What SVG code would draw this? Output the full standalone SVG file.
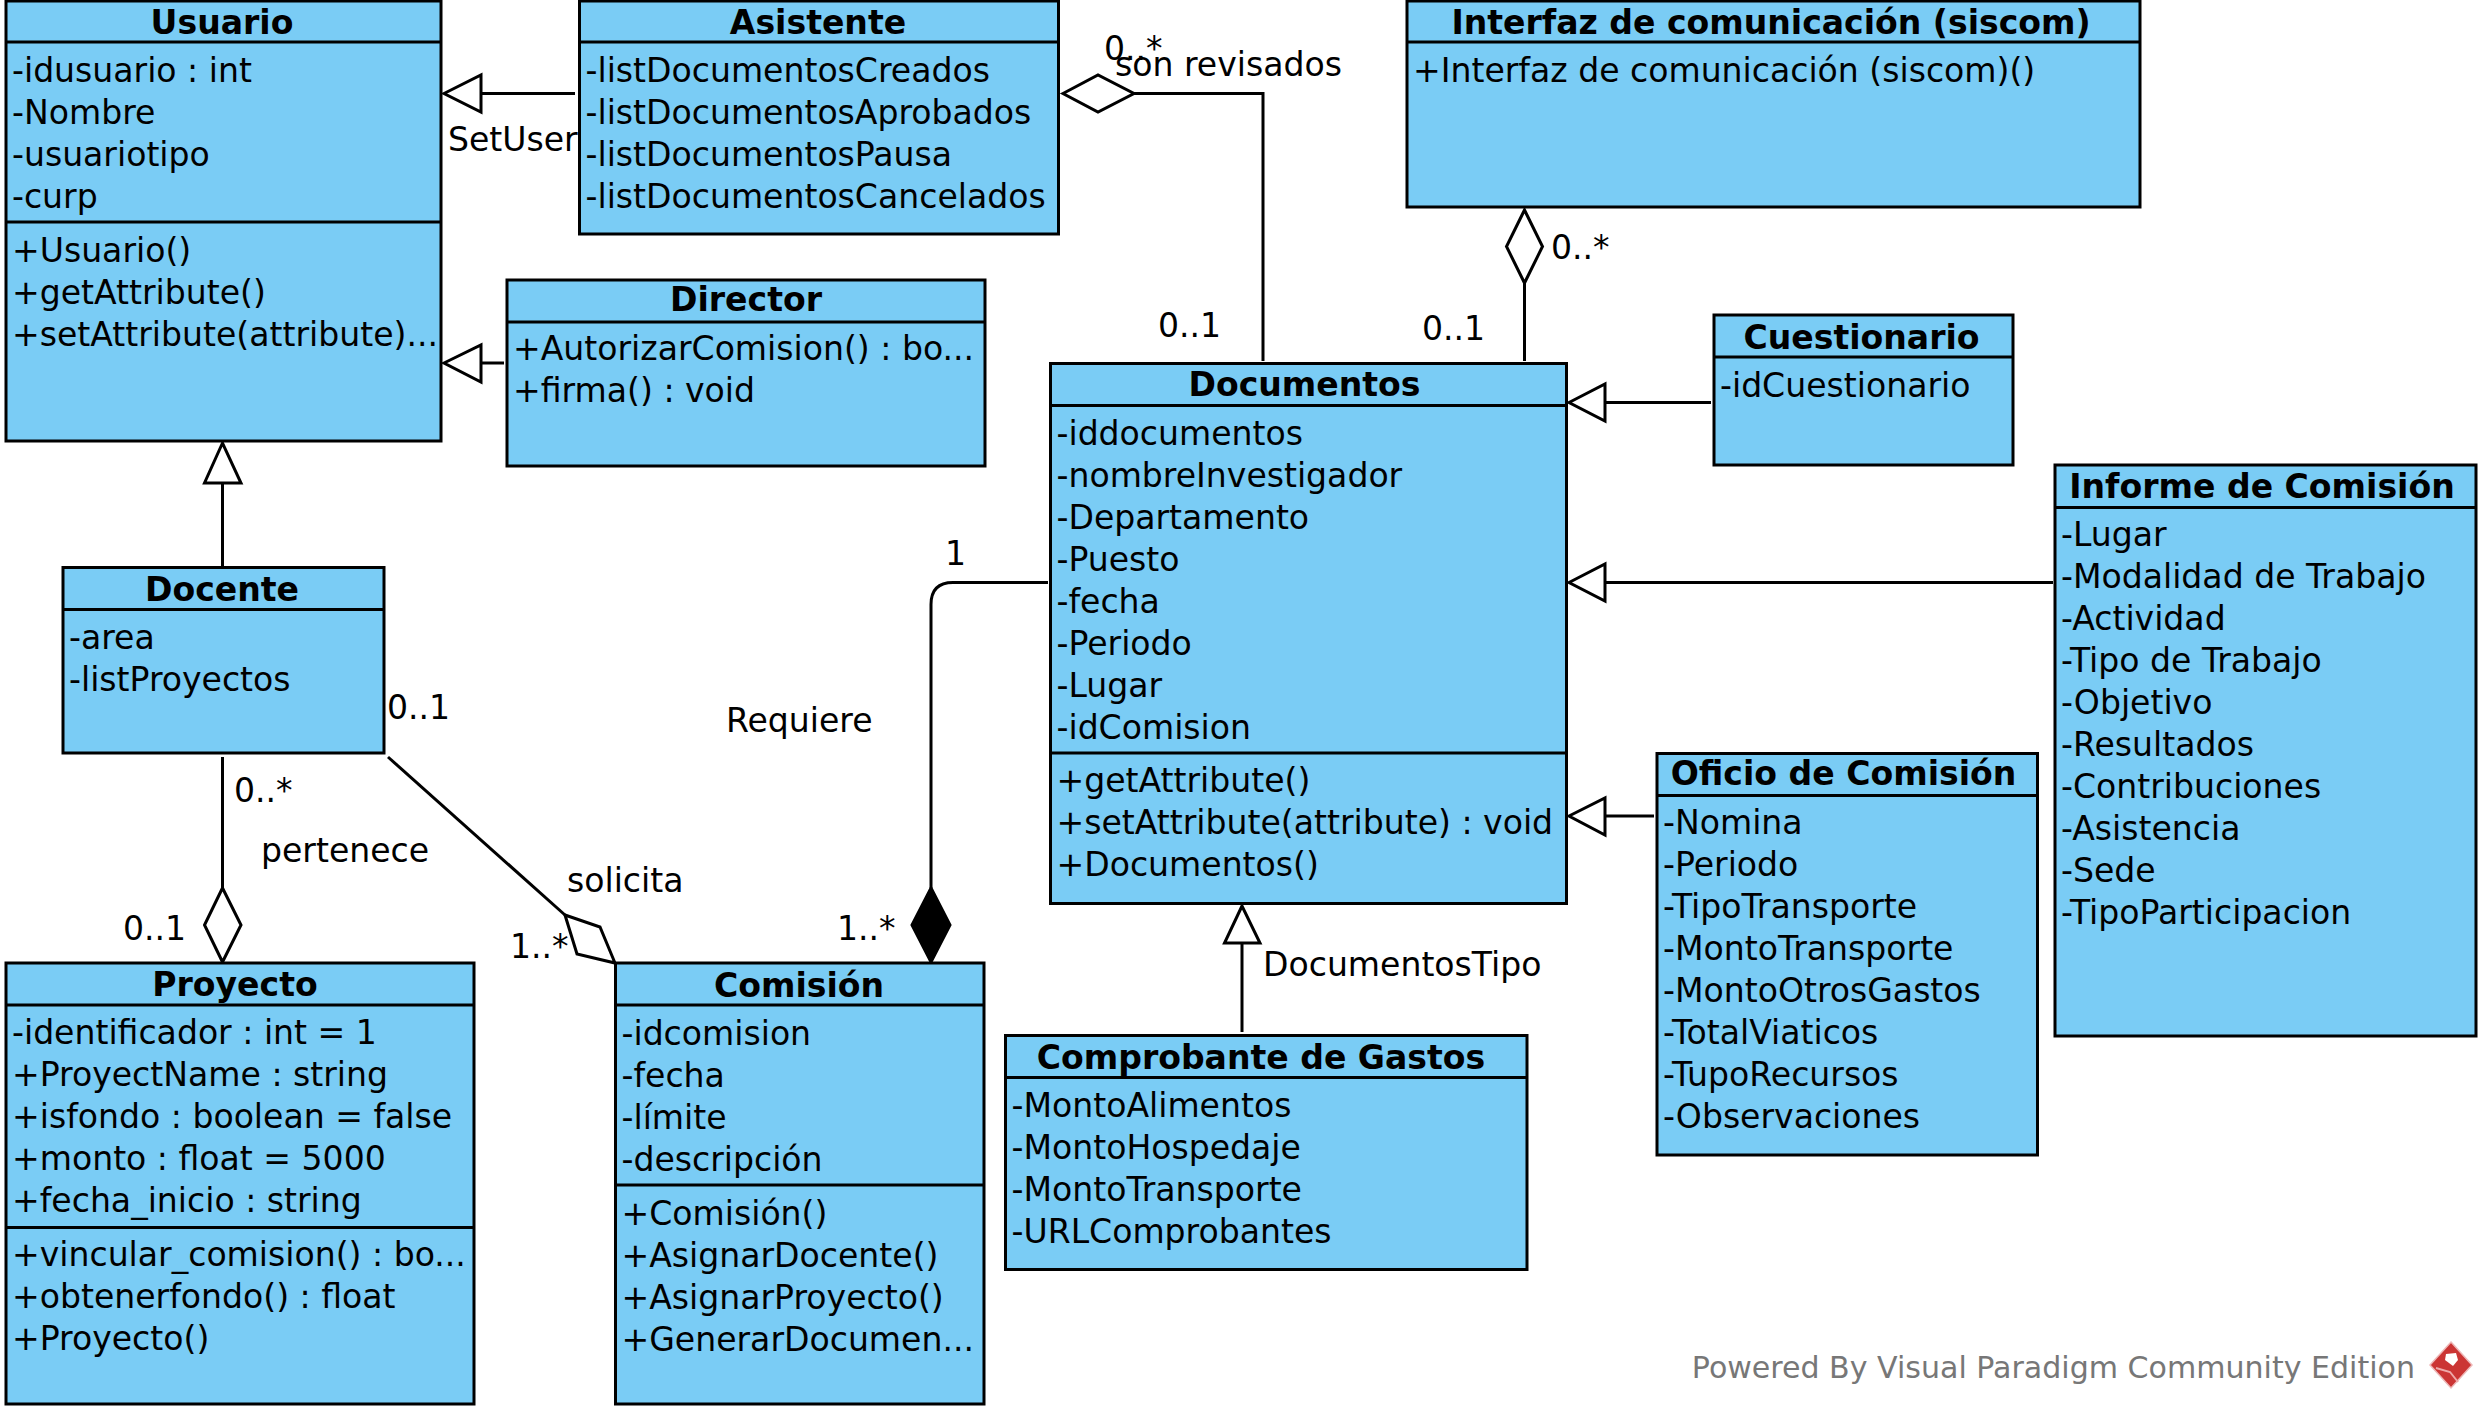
<svg xmlns="http://www.w3.org/2000/svg" width="2487" height="1416" viewBox="0 0 2487 1416">
<style>
text{font-family:"DejaVu Sans",sans-serif;font-size:33.1px;fill:#000;transform:translateY(1.5px)}
#director text,#informe text,#oficio text{transform:translateY(.3px)}
#proyecto text,#documentos text{transform:translateY(.8px)}
.t{font-weight:bold;text-anchor:middle}
.b{fill:#7accf5;stroke:#000;stroke-width:3}
.l{stroke:#000;stroke-width:3;fill:none}
.h{stroke:#000;stroke-width:3;fill:#fff}
.f{stroke:#000;stroke-width:3;fill:#000}
.w{font-size:30.05px;fill:#777;transform:none}
</style>
<rect width="2487" height="1416" fill="#fff"/>
<g id="connectors">
<path class="l" d="M481 93.500H575"/><path class="h" d="M444 93.500L481 75V112Z"/>
<path class="l" d="M481 363H504"/><path class="h" d="M444 363L481 345V382Z"/>
<path class="l" d="M222.500 483V566"/><path class="h" d="M222.500 443L204.500 483H241Z"/>
<path class="l" d="M1134 93.500H1263V361"/><path class="h" d="M1063 93.500L1098 75L1134 93.500L1098 112Z"/>
<path class="l" d="M1524.500 283V361"/><path class="h" d="M1524.500 210L1542.500 246.500L1524.500 283L1506.500 246.500Z"/>
<path class="l" d="M1605 402.500H1711"/><path class="h" d="M1569 402.500L1605 384V421Z"/>
<path class="l" d="M1605 582.500H2053"/><path class="h" d="M1569 582.500L1605 564V601Z"/>
<path class="l" d="M1605 816H1654"/><path class="h" d="M1569 816L1605 798V835Z"/>
<path class="l" d="M1242 943V1032"/><path class="h" d="M1242 906L1224.500 943H1260Z"/>
<path class="l" d="M1048 582.500H953Q931 582.500 931 604.500V888"/><path class="f" d="M931 888L950 925L931 962L912 925Z"/>
<path class="l" d="M222.500 757V888"/><path class="h" d="M222.500 888L241 925L222.500 962L204.500 925Z"/>
<path class="l" d="M388 757L565 915"/><path class="h" d="M565 915L600 927L615 963L577 954Z"/>
</g>
<g id="labels">
<text x="448" y="149">SetUser</text>
<text x="1104" y="58">0..*</text>
<text x="1115" y="74">son revisados</text>
<text x="1158" y="335">0..1</text>
<text x="1551" y="257">0..*</text>
<text x="1422" y="338">0..1</text>
<text x="1263" y="974">DocumentosTipo</text>
<text x="945" y="563">1</text>
<text x="726" y="730">Requiere</text>
<text x="837" y="938">1..*</text>
<text x="234" y="800">0..*</text>
<text x="261" y="860">pertenece</text>
<text x="123" y="938">0..1</text>
<text x="567" y="890">solicita</text>
<text x="510" y="956">1..*</text>
<text x="387" y="717">0..1</text>
</g>
<g id="usuario"><rect class="b" x="6" y="1" width="435" height="440"/><path class="l" d="M6 42H441M6 222H441"/>
<text class="t" x="222" y="32">Usuario</text>
<text x="12" y="80">-idusuario : int</text><text x="12" y="122">-Nombre</text><text x="12" y="164">-usuariotipo</text><text x="12" y="206">-curp</text>
<text x="12" y="260">+Usuario()</text><text x="12" y="302">+getAttribute()</text><text x="12" y="344">+setAttribute(attribute)...</text></g>
<g id="asistente"><rect class="b" x="579.500" y="1" width="479" height="233"/><path class="l" d="M579.500 42H1058.500"/>
<text class="t" x="818" y="32">Asistente</text>
<text x="585.500" y="80">-listDocumentosCreados</text><text x="585.500" y="122">-listDocumentosAprobados</text><text x="585.500" y="164">-listDocumentosPausa</text><text x="585.500" y="206">-listDocumentosCancelados</text></g>
<g id="director"><rect class="b" x="507" y="280" width="478" height="186"/><path class="l" d="M507 322H985"/>
<text class="t" x="746" y="311">Director</text>
<text x="513" y="360">+AutorizarComision() : bo...</text><text x="513" y="402">+firma() : void</text></g>
<g id="interfaz"><rect class="b" x="1407" y="1" width="733" height="206"/><path class="l" d="M1407 42H2140"/>
<text class="t" x="1771" y="32">Interfaz de comunicación (siscom)</text>
<text x="1413" y="80">+Interfaz de comunicación (siscom)()</text></g>
<g id="documentos"><rect class="b" x="1050.500" y="363.500" width="516" height="540"/><path class="l" d="M1050.500 405.500H1566.500M1050.500 753H1566.500"/>
<text class="t" x="1304.500" y="395">Documentos</text>
<text x="1056.500" y="444">-iddocumentos</text><text x="1056.500" y="486">-nombreInvestigador</text><text x="1056.500" y="528">-Departamento</text><text x="1056.500" y="570">-Puesto</text><text x="1056.500" y="612">-fecha</text><text x="1056.500" y="654">-Periodo</text><text x="1056.500" y="696">-Lugar</text><text x="1056.500" y="738">-idComision</text>
<text x="1056.500" y="791">+getAttribute()</text><text x="1056.500" y="833">+setAttribute(attribute) : void</text><text x="1056.500" y="875">+Documentos()</text></g>
<g id="cuestionario"><rect class="b" x="1714" y="315" width="299" height="150"/><path class="l" d="M1714 357H2013"/>
<text class="t" x="1861.500" y="347">Cuestionario</text>
<text x="1720" y="395">-idCuestionario</text></g>
<g id="informe"><rect class="b" x="2055" y="465" width="421" height="571"/><path class="l" d="M2055 507.500H2476"/>
<text class="t" x="2262" y="498">Informe de Comisión</text>
<text x="2061" y="546">-Lugar</text><text x="2061" y="588">-Modalidad de Trabajo</text><text x="2061" y="630">-Actividad</text><text x="2061" y="672">-Tipo de Trabajo</text><text x="2061" y="714">-Objetivo</text><text x="2061" y="756">-Resultados</text><text x="2061" y="798">-Contribuciones</text><text x="2061" y="840">-Asistencia</text><text x="2061" y="882">-Sede</text><text x="2061" y="924">-TipoParticipacion</text></g>
<g id="oficio"><rect class="b" x="1657" y="753.500" width="380.500" height="401.500"/><path class="l" d="M1657 795.500H2037.500"/>
<text class="t" x="1843.500" y="785">Oficio de Comisión</text>
<text x="1663" y="834">-Nomina</text><text x="1663" y="876">-Periodo</text><text x="1663" y="918">-TipoTransporte</text><text x="1663" y="960">-MontoTransporte</text><text x="1663" y="1002">-MontoOtrosGastos</text><text x="1663" y="1044">-TotalViaticos</text><text x="1663" y="1086">-TupoRecursos</text><text x="1663" y="1128">-Observaciones</text></g>
<g id="comprobante"><rect class="b" x="1005.500" y="1035.500" width="521.500" height="234"/><path class="l" d="M1005.500 1077.500H1527"/>
<text class="t" x="1261" y="1067">Comprobante de Gastos</text>
<text x="1011.500" y="1115">-MontoAlimentos</text><text x="1011.500" y="1157">-MontoHospedaje</text><text x="1011.500" y="1199">-MontoTransporte</text><text x="1011.500" y="1241">-URLComprobantes</text></g>
<g id="docente"><rect class="b" x="63" y="567.500" width="321" height="185.500"/><path class="l" d="M63 609.500H384"/>
<text class="t" x="222" y="599">Docente</text>
<text x="69" y="647">-area</text><text x="69" y="689">-listProyectos</text></g>
<g id="proyecto"><rect class="b" x="6" y="963" width="468" height="441"/><path class="l" d="M6 1005H474M6 1227.500H474"/>
<text class="t" x="235" y="995">Proyecto</text>
<text x="12" y="1043">-identificador : int = 1</text><text x="12" y="1085">+ProyectName : string</text><text x="12" y="1127">+isfondo : boolean = false</text><text x="12" y="1169">+monto : float = 5000</text><text x="12" y="1211">+fecha_inicio : string</text>
<text x="12" y="1265">+vincular_comision() : bo...</text><text x="12" y="1307">+obtenerfondo() : float</text><text x="12" y="1349">+Proyecto()</text></g>
<g id="comision"><rect class="b" x="615.500" y="963" width="368.500" height="441"/><path class="l" d="M615.500 1005H984M615.500 1185H984"/>
<text class="t" x="799" y="995">Comisión</text>
<text x="621.500" y="1043">-idcomision</text><text x="621.500" y="1085">-fecha</text><text x="621.500" y="1127">-límite</text><text x="621.500" y="1169">-descripción</text>
<text x="621.500" y="1223">+Comisión()</text><text x="621.500" y="1265">+AsignarDocente()</text><text x="621.500" y="1307">+AsignarProyecto()</text><text x="621.500" y="1349">+GenerarDocumen...</text></g>
<g id="watermark"><text class="w" x="2415" y="1378" text-anchor="end">Powered By Visual Paradigm Community Edition</text>
<path d="M2451 1342L2472 1365L2451 1388L2430 1365Z" fill="#cb3534" stroke="#eeb8b8" stroke-width="1.500"/><path d="M2446 1354L2456 1353L2458 1360L2453 1366L2445 1360Z" fill="#fff"/><path d="M2436 1368L2450 1372L2458 1382" fill="none" stroke="#eea9a9" stroke-width="2"/></g>
</svg>
